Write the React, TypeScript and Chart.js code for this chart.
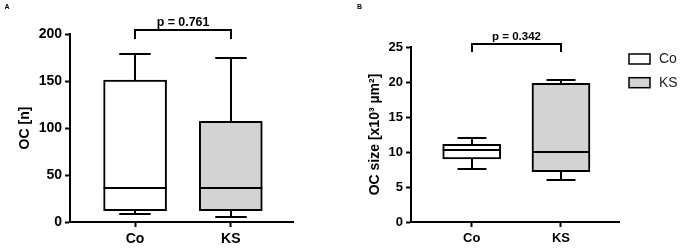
import React, { useEffect, useRef } from 'react';
import { Chart, registerables } from 'chart.js';

Chart.register(...registerables);

// ---- data ----
const categories = ['Co', 'KS'];
const categoryPositions = [0, 1];
const boxFills = ['#ffffff', '#d3d3d3'];

// Panel A: OC [n]
const countMin = [9, 5];
const countQ1 = [12, 12];
const countMedian = [36, 36];
const countQ3 = [151, 107];
const countMax = [179, 174];
const countTicks = [0, 50, 100, 150, 200];
const countPLabel = 'p = 0.761';
const countBracket = [204, 194.5]; // bar level, leg end (data units)

// Panel B: OC size [x10^3 µm^2]
const sizeMin = [7.6, 6.0];
const sizeQ1 = [9.0, 7.2];
const sizeMedian = [10.3, 10.0];
const sizeQ3 = [11.1, 19.8];
const sizeMax = [12.0, 20.3];
const sizeTicks = [0, 5, 10, 15, 20, 25];
const sizePLabel = 'p = 0.342';
const sizeBracket = [25.4, 24.3];

const FONT = 'Arial, "Liberation Sans", sans-serif';

const boxPlugin = {
  id: 'boxWhiskers',
  afterDatasetsDraw(chart: any, _args: any, opts: any) {
    const { ctx } = chart;
    const x = chart.scales.x;
    const y = chart.scales.y;
    ctx.save();
    ctx.strokeStyle = '#000';
    ctx.lineWidth = 2;
    ctx.lineCap = 'butt';
    const line = (x1: number, y1: number, x2: number, y2: number) => {
      ctx.beginPath();
      ctx.moveTo(x1, y1);
      ctx.lineTo(x2, y2);
      ctx.stroke();
    };
    chart.data.datasets.forEach((_ds: any, i: number) => {
      const bar: any = chart.getDatasetMeta(i).data[0];
      const cx = Math.round(x.getPixelForValue(categoryPositions[i]));
      const w = bar.width;
      const cap = w * opts.capRatio;
      const yMin = Math.round(y.getPixelForValue(opts.min[i]));
      const yQ1 = y.getPixelForValue(opts.q1[i]);
      const yMed = Math.round(y.getPixelForValue(opts.median[i]));
      const yQ3 = y.getPixelForValue(opts.q3[i]);
      const yMax = Math.round(y.getPixelForValue(opts.max[i]));
      line(cx, yQ3, cx, yMax);
      line(cx - cap / 2, yMax, cx + cap / 2, yMax);
      line(cx, yQ1, cx, yMin);
      line(cx - cap / 2, yMin, cx + cap / 2, yMin);
      line(bar.x - w / 2, yMed, bar.x + w / 2, yMed);
    });

    // significance bracket
    const xl = Math.round(x.getPixelForValue(categoryPositions[0]));
    const xr = Math.round(x.getPixelForValue(categoryPositions[1]));
    const yb = Math.round(y.getPixelForValue(opts.bracket[0]));
    const yl = Math.round(y.getPixelForValue(opts.bracket[1]));
    ctx.beginPath();
    ctx.moveTo(xl, yl);
    ctx.lineTo(xl, yb);
    ctx.lineTo(xr, yb);
    ctx.lineTo(xr, yl);
    ctx.stroke();
    ctx.fillStyle = '#000';
    ctx.font = `bold ${opts.pFontSize}px ${FONT}`;
    ctx.textAlign = 'center';
    ctx.textBaseline = 'alphabetic';
    ctx.fillText(opts.pLabel, (xl + xr) / 2, yb - 4);

    // panel letter
    ctx.font = `bold 7px ${FONT}`;
    ctx.textAlign = 'left';
    ctx.textBaseline = 'top';
    ctx.fillText(opts.panel, opts.panelX, 4);

    // legend
    if (opts.legend) {
      const lx = chart.chartArea.right + 10;
      chart.data.datasets.forEach((ds: any, i: number) => {
        const ly = chart.chartArea.top + 7 + i * 23.7;
        ctx.fillStyle = ds.backgroundColor;
        ctx.fillRect(lx, ly, 21, 10);
        ctx.lineWidth = 1.5;
        ctx.strokeStyle = '#000';
        ctx.strokeRect(lx, ly, 21, 10);
        ctx.fillStyle = '#222';
        ctx.font = `14px ${FONT}`;
        ctx.textBaseline = 'middle';
        ctx.fillText(ds.label, lx + 30, ly + 5.5);
      });
    }
    ctx.restore();
  },
};

function makeConfig(spec: any) {
  const tickFont = { family: FONT, size: spec.yTickSize, weight: 'bold' as const };
  return {
    type: 'bar' as const,
    data: {
      datasets: categories.map((c, i) => ({
        label: c,
        data: [{ x: categoryPositions[i], y: [spec.q1[i], spec.q3[i]] }],
        backgroundColor: boxFills[i],
        borderColor: '#000',
        borderWidth: 2,
        borderSkipped: false,
        barThickness: spec.barThickness,
        grouped: false,
      })),
    },
    options: {
      animation: false,
      responsive: false,
      devicePixelRatio: 1,
      layout: { padding: { top: spec.padTop, right: spec.padRight, bottom: 0, left: 0 } },
      plugins: {
        legend: { display: false },
        tooltip: { enabled: false },
        boxWhiskers: {
          min: spec.min,
          q1: spec.q1,
          median: spec.median,
          q3: spec.q3,
          max: spec.max,
          capRatio: 0.5,
          bracket: spec.bracket,
          pLabel: spec.pLabel,
          pFontSize: spec.pFontSize,
          panel: spec.panel,
          panelX: spec.panelX,
          legend: spec.legend,
        },
      },
      scales: {
        x: {
          type: 'linear',
          min: -0.68,
          max: 1.65,
          offset: false,
          bounds: 'data',
          afterBuildTicks: (s: any) => {
            s.ticks = categoryPositions.map((v) => ({ value: v }));
          },
          afterFit: (s: any) => {
            s.height = 30;
          },
          ticks: {
            callback: (v: any) => categories[categoryPositions.indexOf(Number(v))],
            font: { family: FONT, size: spec.xTickSize, weight: 'bold' },
            color: '#000',
            padding: 4,
            maxRotation: 0,
            autoSkip: false,
          },
          grid: {
            offset: false,
            drawOnChartArea: false,
            drawTicks: true,
            tickLength: 5,
            tickColor: '#000',
            tickWidth: 2,
            color: '#000',
          },
          border: { display: true, color: '#000', width: 2 },
        },
        y: {
          min: 0,
          max: spec.yMax,
          afterBuildTicks: (s: any) => {
            s.ticks = spec.ticks.map((v: number) => ({ value: v }));
          },
          afterFit: (s: any) => {
            s.width = spec.yWidth;
          },
          ticks: { font: tickFont, color: '#000', padding: 3 },
          grid: {
            drawOnChartArea: false,
            drawTicks: true,
            tickLength: 5,
            tickColor: '#000',
            tickWidth: 2,
            color: '#000',
          },
          border: { display: true, color: '#000', width: 2 },
          title: {
            display: true,
            text: spec.title,
            color: '#000',
            font: { family: FONT, size: 14, weight: 'bold' },
            padding: { top: spec.titlePad, bottom: 0 },
          },
        },
      },
    },
    plugins: [boxPlugin],
  };
}

function Panel({ spec, left, width }: { spec: any; left: number; width: number }) {
  const ref = useRef<HTMLCanvasElement | null>(null);
  useEffect(() => {
    if (!ref.current) return;
    const chart = new Chart(ref.current, makeConfig(spec) as any);
    return () => chart.destroy();
  }, [spec]);
  return (
    <canvas
      ref={ref}
      width={width}
      height={252}
      style={{ position: 'absolute', left, top: 0, width, height: 252 }}
    />
  );
}

const specA = {
  panel: 'A',
  panelX: 4.5,
  min: countMin,
  q1: countQ1,
  median: countMedian,
  q3: countQ3,
  max: countMax,
  ticks: countTicks,
  yMax: 200,
  bracket: countBracket,
  pLabel: countPLabel,
  pFontSize: 12.4,
  title: 'OC [n]',
  titlePad: 16.6,
  yWidth: 70,
  padTop: 34,
  padRight: 47,
  barThickness: 63,
  yTickSize: 14,
  xTickSize: 14,
  legend: false,
};

const specB = {
  panel: 'B',
  panelX: 17,
  min: sizeMin,
  q1: sizeQ1,
  median: sizeMedian,
  q3: sizeQ3,
  max: sizeMax,
  ticks: sizeTicks,
  yMax: 25,
  bracket: sizeBracket,
  pLabel: sizePLabel,
  pFontSize: 11.5,
  title: 'OC size [x10³ µm²]',
  titlePad: 26.6,
  yWidth: 71,
  padTop: 47,
  padRight: 66,
  barThickness: 58,
  yTickSize: 13,
  xTickSize: 13,
  legend: true,
};

export default function App() {
  return (
    <div style={{ position: 'fixed', left: 0, top: 0, width: 685, height: 252, background: '#fff' }}>
      <Panel spec={specA} left={0} width={340} />
      <Panel spec={specB} left={340} width={345} />
    </div>
  );
}
